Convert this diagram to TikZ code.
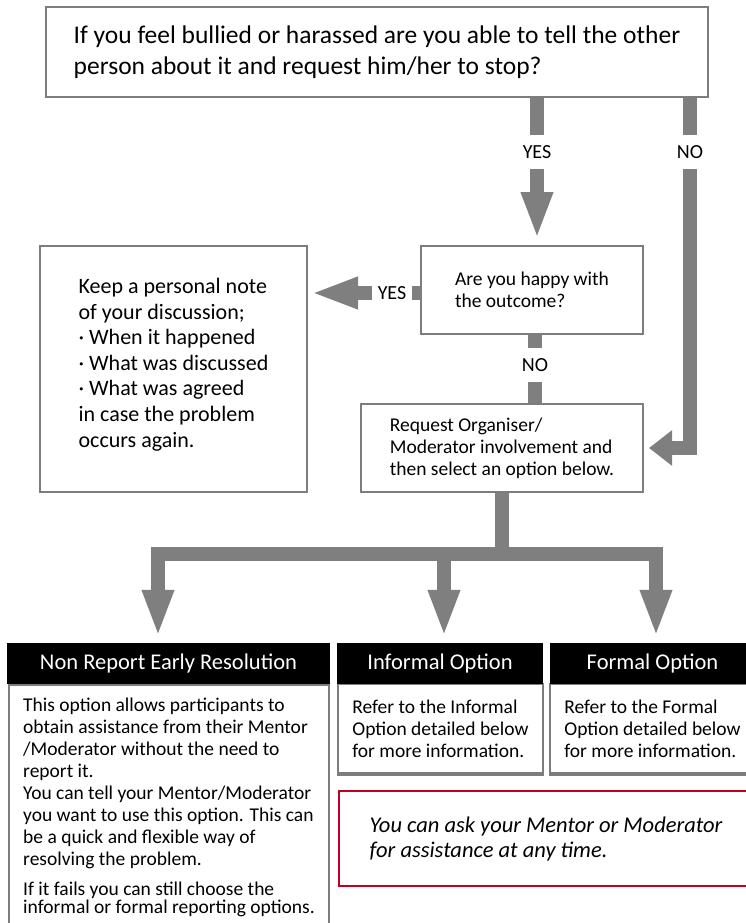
\documentclass[tikz,border=0pt]{standalone}
\usepackage{fontspec}
\setmainfont{Carlito}
\usepackage{tikz}
\usetikzlibrary{arrows.meta,calc}
\usetikzlibrary{positioning}

\begin{document}
\begin{tikzpicture}[x=1pt,y=-1pt]
\definecolor{arrowgray}{RGB}{127,127,127}
\definecolor{boxgray}{RGB}{125,125,125}
\definecolor{notered}{RGB}{192,0,32}
\tikzstyle{box}=[rectangle,draw=boxgray,line width=2pt,fill=white,align=left,inner sep=0pt]
\tikzstyle{head}=[rectangle,fill=black,text=white,minimum height=41pt,inner sep=0pt,font=\fontsize{22.5}{27}\selectfont]
\tikzstyle{body}=[box,line width=2.2pt,font=\fontsize{19.5}{22}\selectfont]
\tikzstyle{label}=[inner xsep=6pt,inner ysep=10pt,text height=13pt,text depth=0pt,font=\fontsize{20}{24}\selectfont]
\tikzstyle{shaft}=[draw=arrowgray,line width=14pt]
\tikzstyle{flow}=[shaft,->,>={Triangle[width=29pt,length=47pt]}]
\tikzstyle{sideflow}=[shaft,->,>={Triangle[width=34pt,length=23pt]}]

\useasboundingbox (0,0) rectangle (746,923);
\clip (0,0) rectangle (746,923);

%QUESTION
\node[box,line width=2.5pt,minimum width=662pt,minimum height=90pt,font=\fontsize{25.5}{31}\selectfont] (question) at (377,52)
  {If you feel bullied or harassed are you able to tell the other\\person about it and request him/her to stop?};

%%%%%%%%%%%%%%%%%%%%%%%%%%%%%%%%%%%%%%%%%%%%%%%%%%%%%%%%%%%%%%%%%%%%%%%%
%answers
\node[label] (yes1) at (537,152) {YES};
\node[label] (no1) at (690,152) {NO};

%happy
\node[box,minimum width=222pt,minimum height=88pt,font=\fontsize{19.5}{22}\selectfont] (happy) at (532,290)
  {Are you happy with\\the outcome?};
\node[label] (yes2) at (392,293) {YES};
\node[label] (no2) at (535,365) {NO};

%note
\node[box,minimum width=267pt,minimum height=246pt,font=\fontsize{22}{25.6}\selectfont] (keep) at (173.5,369)
  {Keep a personal note\\of your discussion;\\· When it happened\\· What was discussed\\· What was agreed\\in case the problem\\occurs again.\\[-13pt]\mbox{}};

%request
\node[box,minimum width=282pt,minimum height=88pt,font=\fontsize{19.5}{22}\selectfont] (request) at (502,448)
  {Request Organiser/\\Moderator involvement and\\then select an option below.};

%%%%%%%%%%%%%%%%%%%%%%%%%%%%%%%%%%%%%%%%%%%%%%%%%%%%%%%%%%%%%%%%%%%%%%%%
%options
%bodies
\node[body,anchor=north,minimum width=320pt,inner ysep=13pt] (nonrepbody) at (169,684)
  {This option allows participants to\\obtain assistance from their Mentor\\/Moderator without the need to\\report it.\\You can tell your Mentor/Moderator\\you want to use this option. This can\\be a quick and flexible way of\\resolving the problem.\\[8pt]If it fails you can still choose the\\[-3.7pt]informal or formal reporting options.};
\node[body,minimum width=205pt,minimum height=89pt] (informbody) at (440.5,728.5)
  {Refer to the Informal\\Option detailed below\\for more information.};
\node[body,minimum width=205pt,minimum height=89pt] (formalbody) at (652.5,728.5)
  {Refer to the Formal\\Option detailed below\\for more information.};
\draw[draw=boxgray,line width=4pt] (informbody.south west) -- (informbody.south east);
\draw[draw=boxgray,line width=4pt] (formalbody.south west) -- (formalbody.south east);

%headers
\node[head,minimum width=323pt] (nonrep) at (168.5,663.5) {Non Report Early Resolution};
\node[head,minimum width=206pt] (inform) at (440,663.5) {Informal Option};
\node[head,minimum width=205pt] (formal) at (652.5,663.5) {Formal Option};

%note
\node[box,draw=notered,line width=2.6pt,minimum width=414pt,minimum height=95pt,font=\fontsize{22.5}{25}\selectfont\itshape] (anytime) at (546,838.5)
  {You can ask your Mentor or Moderator\\for assistance at any time.};

%%%%%%%%%%%%%%%%%%%%%%%%%%%%%%%%%%%%%%%%%%%%%%%%%%%%%%%%%%%%%%
%ARROWS
\coordinate (b1) at (158,554);
\coordinate (b2) at (444,554);
\coordinate (b3) at (656,554);

% question->happy
\draw[shaft] (question.south -| yes1) -- (yes1.north);
\draw[flow,shorten >=6pt] (yes1.south) -- (yes1 |- happy.north);
% question->request
\draw[shaft] (question.south -| no1) -- (no1.north);
\draw[sideflow,shorten >=5pt] (no1.south) |- (request.east);

% happy->keep
\draw[shaft] (happy.west |- yes2) -- (yes2.east);
\draw[flow,shorten >=3pt] (yes2.west) -- (yes2 -| keep.east);
% happy->request
\draw[shaft] (happy.south -| no2) -- (no2.north);
\draw[shaft] (no2.south) -- (no2 |- request.north);

% request->options
\draw[flow,shorten >=6pt] (request.south) |- (b1) -- (b1 |- nonrep.north);
\draw[flow,shorten >=6pt] (request.south) |- (b2) -- (b2 |- inform.north);
\draw[flow,shorten >=6pt] (request.south) |- (b3) -- (b3 |- formal.north);

\end{tikzpicture}
\end{document}
